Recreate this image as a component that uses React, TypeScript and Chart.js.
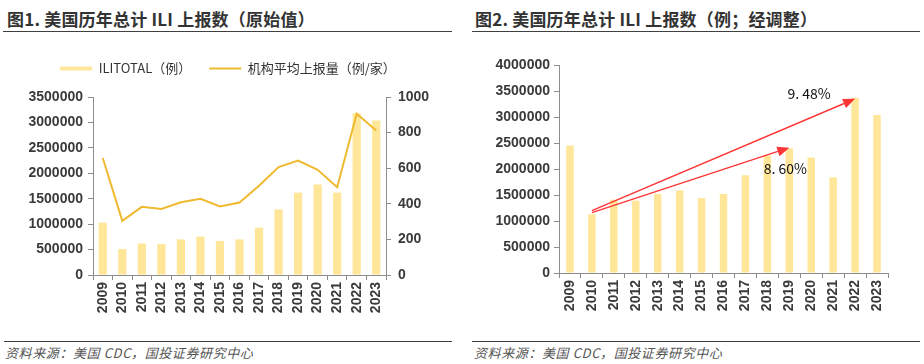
import React, { useEffect, useRef } from 'react';
import { Chart, registerables } from 'chart.js';

Chart.register(...registerables);

const years = ['2009', '2010', '2011', '2012', '2013', '2014', '2015', '2016', '2017', '2018', '2019', '2020', '2021', '2022', '2023'];
const iliTotalRaw = [1030000, 510000, 620000, 610000, 700000, 755000, 670000, 700000, 930000, 1290000, 1620000, 1780000, 1620000, 3180000, 3040000];
const avgPerProvider = [657, 304, 383, 371, 409, 428, 385, 407, 501, 606, 643, 591, 493, 906, 812];
const iliTotalAdjusted = [2450000, 1130000, 1410000, 1390000, 1520000, 1590000, 1440000, 1520000, 1880000, 2260000, 2400000, 2220000, 1840000, 3370000, 3040000];

const leftTicksMax = 3500000;
const leftTicksStep = 500000;
const rightTicksMax = 1000;
const rightTicksStep = 200;
const adjTicksMax = 4000000;
const adjTicksStep = 500000;

const arrowLabels = ['9. 48%', '8. 60%'];
const arrowFromYear = ['2010', '2010'];
const arrowFromValue = [1200000, 1160000];
const arrowToYear = ['2022', '2019'];
const arrowToValue = [3350000, 2410000];

const BAR_COLOR = '#FFE699';
const LINE_COLOR = '#EFBA30';
const AXIS_COLOR = '#8c8c8c';
const TICK_COLOR = '#3a3a3a';
const TICK_FONT = { family: 'Liberation Sans, Arial, sans-serif', size: 14, weight: 'bold' };
const plainNumber = (v: any) => String(v);

const axisGrid = { display: true, drawOnChartArea: false, drawTicks: true, tickLength: 5, color: AXIS_COLOR, lineWidth: 1 };
const axisBorder = { display: true, color: AXIS_COLOR, width: 1 };

const legendSpacer = {
  id: 'legendSpacer',
  beforeUpdate(chart: any, _args: any, opts: any) {
    const lg = chart.legend;
    if (lg && !lg.__patched) {
      const orig = lg.fit;
      lg.fit = function () {
        orig.call(this);
        this.height += (opts && opts.extra) || 0;
      };
      lg.__patched = true;
    }
  },
};

const arrowPlugin = {
  id: 'arrows',
  afterDatasetsDraw(chart: any, _args: any, opts: any) {
    const { ctx, scales } = chart;
    const xs = scales.x;
    const ys = scales.y;
    ctx.save();
    arrowLabels.forEach((label, i) => {
      const x0 = xs.getPixelForValue(years.indexOf(arrowFromYear[i]));
      const y0 = ys.getPixelForValue(arrowFromValue[i]);
      const x1 = xs.getPixelForValue(years.indexOf(arrowToYear[i]));
      const y1 = ys.getPixelForValue(arrowToValue[i]);
      const ang = Math.atan2(y1 - y0, x1 - x0);
      const headLen = 12;
      const headHalf = 5;
      const bx = x1 - Math.cos(ang) * headLen;
      const by = y1 - Math.sin(ang) * headLen;
      ctx.strokeStyle = opts.color;
      ctx.fillStyle = opts.color;
      ctx.lineWidth = 1.4;
      ctx.beginPath();
      ctx.moveTo(x0, y0);
      ctx.lineTo(bx, by);
      ctx.stroke();
      ctx.beginPath();
      ctx.moveTo(x1, y1);
      ctx.lineTo(bx + Math.sin(ang) * headHalf, by - Math.cos(ang) * headHalf);
      ctx.lineTo(bx - Math.sin(ang) * headHalf, by + Math.cos(ang) * headHalf);
      ctx.closePath();
      ctx.fill();
      const off = opts.labelOffsets[i];
      ctx.fillStyle = '#111';
      ctx.font = '14px "Noto Sans CJK SC", sans-serif';
      ctx.textAlign = 'center';
      ctx.textBaseline = 'middle';
      ctx.fillText(label, x1 + off[0], y1 + off[1]);
    });
    ctx.restore();
  },
};

function LeftChart() {
  const ref = useRef<HTMLCanvasElement>(null);
  useEffect(() => {
    const chart = new Chart(ref.current as HTMLCanvasElement, {
      type: 'bar',
      data: {
        labels: years,
        datasets: [
          {
            type: 'bar',
            label: 'ILITOTAL（例）',
            data: iliTotalRaw,
            backgroundColor: BAR_COLOR,
            borderWidth: 0,
            yAxisID: 'y',
            barPercentage: 0.42,
            categoryPercentage: 1,
            order: 2,
          } as any,
          {
            type: 'line',
            label: '机构平均上报量（例/家）',
            data: avgPerProvider,
            borderColor: LINE_COLOR,
            backgroundColor: LINE_COLOR,
            borderWidth: 2,
            pointRadius: 0,
            tension: 0,
            yAxisID: 'y1',
            order: 1,
          } as any,
        ],
      },
      options: {
        responsive: false,
        animation: false,
        layout: { padding: { top: 4, left: 0, right: 6, bottom: 0 } },
        plugins: {
          tooltip: { enabled: false },
          legendSpacer: { extra: 12 },
          legend: {
            display: true,
            position: 'top',
            labels: {
              usePointStyle: true,
              pointStyleWidth: 32,
              boxHeight: 4,
              padding: 18,
              color: '#333',
              font: { family: '"Noto Sans CJK SC", sans-serif', size: 13 },
              generateLabels: (c: any) =>
                c.data.datasets.map((ds: any, i: number) => ({
                  text: ds.label,
                  fillStyle: ds.backgroundColor,
                  strokeStyle: ds.borderColor || ds.backgroundColor,
                  lineWidth: i === 0 ? 0 : 2,
                  pointStyle: i === 0 ? 'rect' : 'line',
                  hidden: false,
                  datasetIndex: i,
                  fontColor: '#333',
                })),
            },
          },
        } as any,
        scales: {
          x: {
            grid: { ...axisGrid, offset: true },
            border: axisBorder,
            ticks: { minRotation: 90, maxRotation: 90, autoSkip: false, font: TICK_FONT, color: TICK_COLOR, padding: 2 },
            afterFit: (s: any) => { s.height = 50; },
          },
          y: {
            position: 'left',
            min: 0,
            max: leftTicksMax,
            grid: axisGrid,
            border: axisBorder,
            ticks: { stepSize: leftTicksStep, font: TICK_FONT, color: TICK_COLOR, padding: 5, callback: plainNumber },
            afterFit: (s: any) => { s.width = 93; },
          },
          y1: {
            position: 'right',
            min: 0,
            max: rightTicksMax,
            grid: axisGrid,
            border: axisBorder,
            ticks: { stepSize: rightTicksStep, font: TICK_FONT, color: TICK_COLOR, padding: 7, callback: plainNumber },
            afterFit: (s: any) => { s.width = 70; },
          },
        } as any,
      },
      plugins: [legendSpacer],
    });
    return () => chart.destroy();
  }, []);
  return <canvas ref={ref} width={462} height={285} style={{ position: 'absolute', left: 0, top: 40, width: 462, height: 285 }} />;
}

function RightChart() {
  const ref = useRef<HTMLCanvasElement>(null);
  useEffect(() => {
    const chart = new Chart(ref.current as HTMLCanvasElement, {
      type: 'bar',
      data: {
        labels: years,
        datasets: [
          {
            label: 'ILITOTAL（例；经调整）',
            data: iliTotalAdjusted,
            backgroundColor: BAR_COLOR,
            borderWidth: 0,
            barPercentage: 0.34,
            categoryPercentage: 1,
          },
        ],
      },
      options: {
        responsive: false,
        animation: false,
        layout: { padding: { top: 25, left: 0, right: 36, bottom: 0 } },
        plugins: {
          tooltip: { enabled: false },
          legend: { display: false },
          arrows: { color: '#FF3535', labelOffsets: [[-46, -5], [-4, 21]] },
        } as any,
        scales: {
          x: {
            grid: { ...axisGrid, offset: true },
            border: axisBorder,
            ticks: { minRotation: 90, maxRotation: 90, autoSkip: false, font: TICK_FONT, color: TICK_COLOR, padding: 2 },
            afterFit: (s: any) => { s.height = 50; },
          },
          y: {
            position: 'left',
            min: 0,
            max: adjTicksMax,
            grid: axisGrid,
            border: axisBorder,
            ticks: { stepSize: adjTicksStep, font: TICK_FONT, color: TICK_COLOR, padding: 4, callback: plainNumber },
            afterFit: (s: any) => { s.width = 97; },
          },
        } as any,
      },
      plugins: [arrowPlugin],
    });
    return () => chart.destroy();
  }, []);
  return <canvas ref={ref} width={462} height={283} style={{ position: 'absolute', left: 462, top: 40, width: 462, height: 283 }} />;
}

const titleStyle: React.CSSProperties = {
  position: 'absolute',
  top: 8,
  fontFamily: '"Noto Sans CJK SC", sans-serif',
  fontSize: 17,
  fontWeight: 700,
  color: '#333',
  whiteSpace: 'nowrap',
  lineHeight: '22px',
  letterSpacing: 0.2,
};

const sourceStyle: React.CSSProperties = {
  position: 'absolute',
  top: 344,
  fontFamily: '"Noto Sans CJK SC", sans-serif',
  fontSize: 13,
  fontStyle: 'italic',
  color: '#555',
  whiteSpace: 'nowrap',
  lineHeight: '18px',
  letterSpacing: 0.6,
};

export default function App() {
  return (
    <div style={{ position: 'absolute', left: 0, top: 0, width: 924, height: 364, background: '#fff', overflow: 'hidden' }}>
      <div style={{ ...titleStyle, left: 7 }}>图1. 美国历年总计 ILI 上报数（原始值）</div>
      <div style={{ ...titleStyle, left: 475 }}>图2. 美国历年总计 ILI 上报数（例；经调整）</div>
      <div style={{ position: 'absolute', left: 3, top: 31, width: 449, height: 0, borderTop: '1px solid #404040' }} />
      <div style={{ position: 'absolute', left: 472, top: 31, width: 448, height: 0, borderTop: '1px solid #404040' }} />
      <LeftChart />
      <RightChart />
      <div style={{ position: 'absolute', left: 4, top: 341, width: 448, height: 0, borderTop: '1px solid #404040' }} />
      <div style={{ position: 'absolute', left: 472, top: 341, width: 448, height: 0, borderTop: '1px solid #404040' }} />
      <div style={{ ...sourceStyle, left: 5 }}>资料来源：美国 CDC，国投证券研究中心</div>
      <div style={{ ...sourceStyle, left: 474 }}>资料来源：美国 CDC，国投证券研究中心</div>
    </div>
  );
}
